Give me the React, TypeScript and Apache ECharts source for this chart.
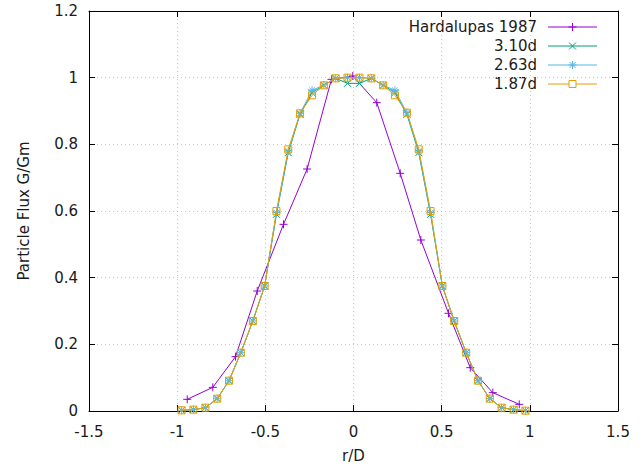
import React, { useEffect, useRef } from "react";
import * as echarts from "echarts";

const rValues = [
  -0.975, -0.908, -0.84, -0.773, -0.706, -0.639, -0.571, -0.504, -0.437, -0.37,
  -0.303, -0.235, -0.168, -0.101, -0.034, 0.034, 0.101, 0.168, 0.235, 0.303,
  0.37, 0.437, 0.504, 0.571, 0.639, 0.706, 0.773, 0.84, 0.908, 0.975,
];
const flux310 = [
  0.002, 0.004, 0.01, 0.037, 0.091, 0.175, 0.27, 0.375, 0.59, 0.775,
  0.89, 0.955, 0.977, 0.998, 0.983, 0.983, 0.998, 0.977, 0.955, 0.89,
  0.775, 0.59, 0.375, 0.27, 0.175, 0.091, 0.037, 0.01, 0.004, 0.001,
];
const flux263 = [
  0.002, 0.004, 0.01, 0.037, 0.091, 0.175, 0.27, 0.375, 0.595, 0.78,
  0.893, 0.962, 0.978, 0.998, 1.0, 1.0, 0.998, 0.978, 0.962, 0.895,
  0.78, 0.595, 0.375, 0.27, 0.175, 0.091, 0.037, 0.01, 0.004, 0.001,
];
const flux187 = [
  0.002, 0.004, 0.01, 0.037, 0.091, 0.175, 0.27, 0.375, 0.6, 0.785,
  0.893, 0.947, 0.977, 0.998, 1.0, 1.0, 0.998, 0.977, 0.947, 0.895,
  0.785, 0.6, 0.375, 0.27, 0.175, 0.091, 0.037, 0.01, 0.004, 0.001,
];
const hardR = [
  -0.943, -0.798, -0.669, -0.546, -0.397, -0.263, -0.125, -0.004, 0.132, 0.265,
  0.382, 0.539, 0.662, 0.79, 0.94,
];
const hardFlux = [
  0.035, 0.071, 0.163, 0.36, 0.56, 0.726, 0.995, 1.005, 0.925, 0.713,
  0.513, 0.293, 0.13, 0.055, 0.02,
];
const seriesNames = ["Hardalupas 1987", "3.10d", "2.63d", "1.87d"];
const colors = ["#9400d3", "#009e73", "#56b4e9", "#e69f00"];
const markerKinds = ["plus", "cross", "star", "square"];
const symbols = [
  "path://M0,5L10,5M5,0L5,10",
  "path://M0,0L10,10M0,10L10,0",
  "path://M0,5L10,5M5,0L5,10M1.5,1.5L8.5,8.5M1.5,8.5L8.5,1.5",
  "rect",
];
const symbolSizes = [8, 7, 8, 7];

const FONT = "'DejaVu Sans', sans-serif";
const TEXT = "#1a1a1a";

function zip(xs: number[], ys: number[]) {
  return xs.map((x, i) => [x, ys[i]]);
}

function markerGraphic(kind: string, cx: number, cy: number, color: string) {
  const st = { stroke: color, lineWidth: 1, fill: null };
  const seg = (x1: number, y1: number, x2: number, y2: number) => ({
    type: "line",
    shape: { x1: cx + x1, y1: cy + y1, x2: cx + x2, y2: cy + y2 },
    style: st,
  });
  if (kind === "plus") return [seg(-4, 0, 4, 0), seg(0, -4, 0, 4)];
  if (kind === "cross") return [seg(-3.5, -3.5, 3.5, 3.5), seg(-3.5, 3.5, 3.5, -3.5)];
  if (kind === "star")
    return [seg(-4, 0, 4, 0), seg(0, -4, 0, 4), seg(-3, -3, 3, 3), seg(-3, 3, 3, -3)];
  return [
    {
      type: "rect",
      shape: { x: cx - 3.5, y: cy - 3.5, width: 7, height: 7 },
      style: { stroke: color, lineWidth: 1, fill: "#fff" },
    },
  ];
}

export default function App() {
  const ref = useRef<HTMLDivElement>(null);
  useEffect(() => {
    if (!ref.current) return;
    const chart = echarts.init(ref.current, undefined, { renderer: "svg" });
    const datasets = [
      zip(hardR, hardFlux),
      zip(rValues, flux310),
      zip(rValues, flux263),
      zip(rValues, flux187),
    ];
    const series = seriesNames.map((name, i) => ({
      name,
      type: "line",
      data: datasets[i],
      symbol: symbols[i],
      symbolSize: symbolSizes[i],
      showAllSymbol: true,
      lineStyle: { color: colors[i], width: 1 },
      itemStyle: { color: "rgba(0,0,0,0)", borderColor: colors[i], borderWidth: 1 },
      emphasis: { disabled: true },
      z: 2 + i,
    }));

    // legend (gnuplot style: text left, sample right)
    const legendRows = [27, 46, 65, 84];
    const legendElems: any[] = [];
    seriesNames.forEach((name, i) => {
      const y = legendRows[i];
      legendElems.push({
        type: "text",
        x: 537,
        y,
        style: {
          text: name,
          fontFamily: FONT,
          fontSize: 15,
          fill: TEXT,
          align: "right",
          verticalAlign: "middle",
        },
      });
      legendElems.push({
        type: "line",
        shape: { x1: 548, y1: y, x2: 597, y2: y },
        style: { stroke: colors[i], lineWidth: 1 },
      });
      legendElems.push(...markerGraphic(markerKinds[i], 572.5, y, colors[i]));
    });

    const gridLine = {
      show: true,
      lineStyle: { color: "#c8c8c8", width: 1, type: [1, 3] },
    };
    chart.setOption({
      animation: false,
      backgroundColor: "#fff",
      grid: { left: 89, right: 26, top: 11, bottom: 59 },
      graphic: { elements: [{ type: "group", z: 100, children: legendElems }] },
      xAxis: [
        {
          type: "value",
          position: "bottom",
          min: -1.5,
          max: 1.5,
          interval: 0.5,
          name: "r/D",
          nameLocation: "middle",
          nameGap: 37,
          nameTextStyle: { fontFamily: FONT, fontSize: 15, color: TEXT },
          axisLine: { show: true, onZero: false, lineStyle: { color: "#000", width: 1 } },
          axisTick: { show: true, inside: true, length: 6, lineStyle: { color: "#000" } },
          axisLabel: { fontFamily: FONT, fontSize: 15, color: TEXT, margin: 13 },
          splitLine: gridLine,
        },
        {
          type: "value",
          position: "top",
          min: -1.5,
          max: 1.5,
          interval: 0.5,
          axisLine: { show: true, onZero: false, lineStyle: { color: "#000", width: 1 } },
          axisTick: { show: true, inside: true, length: 6, lineStyle: { color: "#000" } },
          axisLabel: { show: false },
          splitLine: { show: false },
        },
      ],
      yAxis: [
        {
          type: "value",
          position: "left",
          min: 0,
          max: 1.2,
          interval: 0.2,
          name: "Particle Flux G/Gm",
          nameLocation: "middle",
          nameGap: 58,
          nameTextStyle: { fontFamily: FONT, fontSize: 15, color: TEXT },
          axisLine: { show: true, onZero: false, lineStyle: { color: "#000", width: 1 } },
          axisTick: { show: true, inside: true, length: 6, lineStyle: { color: "#000" } },
          axisLabel: { fontFamily: FONT, fontSize: 15, color: TEXT, margin: 11 },
          splitLine: gridLine,
        },
        {
          type: "value",
          position: "right",
          min: 0,
          max: 1.2,
          interval: 0.2,
          axisLine: { show: true, onZero: false, lineStyle: { color: "#000", width: 1 } },
          axisTick: { show: true, inside: true, length: 6, lineStyle: { color: "#000" } },
          axisLabel: { show: false },
          splitLine: { show: false },
        },
      ],
      series,
    });
    return () => chart.dispose();
  }, []);
  return <div ref={ref} style={{ width: 644, height: 470, position: "absolute", left: 0, top: 0 }} />;
}
